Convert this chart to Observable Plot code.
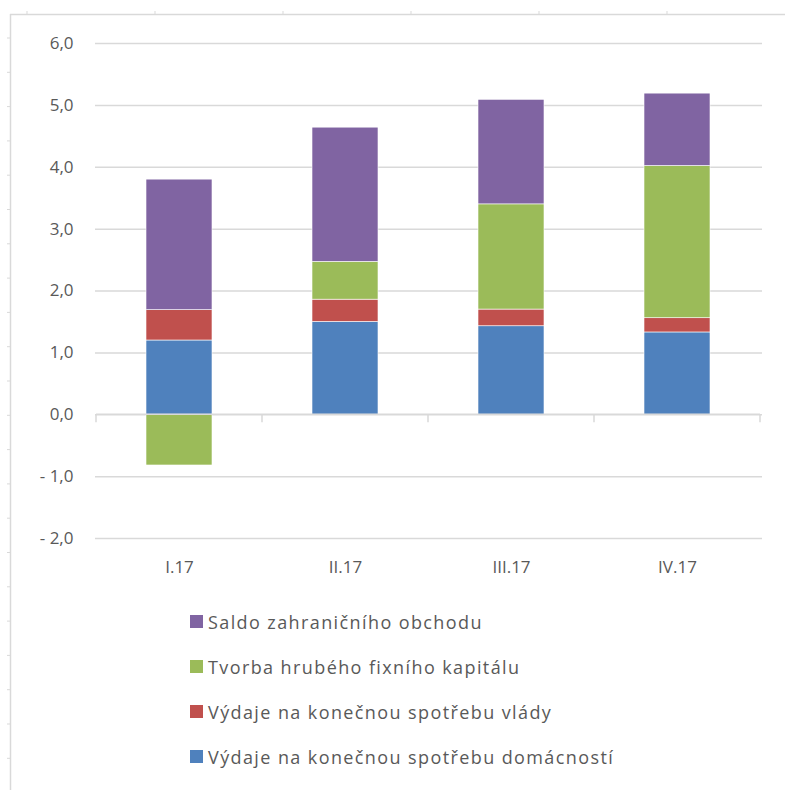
<!DOCTYPE html>
<html lang="cs">
<head>
<meta charset="utf-8">
<script src="https://cdn.jsdelivr.net/npm/d3@7"></script>
<script src="https://cdn.jsdelivr.net/npm/@observablehq/plot@0.6"></script>
<style>
  html, body { margin: 0; padding: 0; background: #fff; }
  #wrap { position: relative; width: 785px; height: 790px; overflow: hidden; font-family: "Open Sans", sans-serif; color: #595959; }
  #deco { position: absolute; left: 0; top: 0; }
  #chart { position: absolute; left: 0; top: 0; }
  #legend { position: absolute; left: 190px; top: 599px; }
  .item { display: flex; align-items: center; height: 45px; font-size: 18px; letter-spacing: 1.4px; color: #595959; }
  .sw { width: 13px; height: 13px; margin-right: 5px; flex: none; }
</style>
</head>
<body>
<div id="wrap">
  <svg id="deco" width="785" height="790"></svg>
  <div id="chart"></div>
  <div id="legend"></div>
</div>
<script>
// Příspěvky ke změně HDP (p.b.), čtvrtletí 2017
const quarters = ["I.17", "II.17", "III.17", "IV.17"];

const seriesNames = [
  "Výdaje na konečnou spotřebu domácností",
  "Výdaje na konečnou spotřebu vlády",
  "Tvorba hrubého fixního kapitálu",
  "Saldo zahraničního obchodu"
];
const seriesColors = ["#4F81BD", "#C0504D", "#9BBB59", "#8064A2"];

const households   = [1.20, 1.50, 1.43, 1.33];
const government   = [0.49, 0.36, 0.27, 0.23];
const fixedCapital = [-0.82, 0.61, 1.70, 2.46];
const tradeBalance = [2.11, 2.17, 1.69, 1.17];

const yTicks = [-2, -1, 0, 1, 2, 3, 4, 5, 6];

// long table for the stacked bars, bottom-to-top order
const seriesValues = [households, government, fixedCapital, tradeBalance];
const rows = [];
seriesNames.forEach((name, s) => {
  quarters.forEach((q, i) => rows.push({quarter: q, series: name, value: seriesValues[s][i]}));
});

const fmt = d => (d < 0 ? "- " : "") + Math.abs(d).toFixed(1).replace(".", ",");

// category axis along zero with boundary ticks between quarters
function zeroAxis(index, {x, y}) {
  const g = d3.create("svg:g");
  const step = x.step();
  const x0 = x(quarters[0]) - (step - x.bandwidth()) / 2;
  const y0 = y(0);
  const xs = d3.range(quarters.length + 1).map(i => x0 + i * step);
  g.append("line")
    .attr("x1", xs[0]).attr("x2", xs[xs.length - 1])
    .attr("y1", y0).attr("y2", y0)
    .attr("stroke", "#d9d9d9").attr("stroke-width", 1.5);
  g.selectAll("line.t").data(xs).join("line")
    .attr("class", "t")
    .attr("x1", d => d).attr("x2", d => d)
    .attr("y1", y0).attr("y2", y0 + 8)
    .attr("stroke", "#d9d9d9").attr("stroke-width", 1.5);
  return g.node();
}

const chart = Plot.plot({
  width: 785,
  height: 590,
  marginLeft: 95,
  marginRight: 23,
  marginTop: 43,
  marginBottom: 52,
  style: {fontFamily: "'Open Sans', sans-serif", fontSize: "17px", color: "#595959", background: "transparent"},
  x: {domain: quarters, paddingInner: 0.6, paddingOuter: 0.3, label: null},
  y: {domain: [-2, 6], label: null},
  color: {domain: seriesNames, range: seriesColors},
  marks: [
    Plot.gridY(yTicks, {stroke: "#d9d9d9", strokeOpacity: 1, strokeWidth: 1.5}),
    Plot.barY(rows, {x: "quarter", y: "value", fill: "series", order: seriesNames, stroke: "#fff", strokeWidth: 0.6}),
    zeroAxis,
    Plot.axisY(yTicks, {tickSize: 0, tickPadding: 22, tickFormat: fmt, letterSpacing: 1.5, label: null}),
    Plot.axisX({tickSize: 0, tickPadding: 22, letterSpacing: 1, label: null})
  ]
});
document.getElementById("chart").appendChild(chart);

// legend, top entry is the top of the stack
const legend = d3.select("#legend");
seriesNames.slice().reverse().forEach(name => {
  const item = legend.append("div").attr("class", "item");
  item.append("div").attr("class", "sw").style("background", seriesColors[seriesNames.indexOf(name)]);
  item.append("span").text(name);
});

// outer chart-area border with small ruler ticks
const deco = d3.select("#deco");
const line = "#d9d9d9";
deco.append("line").attr("x1", 10).attr("x2", 785).attr("y1", 14.5).attr("y2", 14.5).attr("stroke", line).attr("stroke-width", 1.5);
deco.append("line").attr("x1", 10.5).attr("x2", 10.5).attr("y1", 14).attr("y2", 790).attr("stroke", line).attr("stroke-width", 1.5);
deco.selectAll("line.tt").data(d3.range(27, 785, 128)).join("line").attr("class", "tt")
  .attr("x1", d => d).attr("x2", d => d).attr("y1", 11).attr("y2", 14).attr("stroke", line);
deco.selectAll("line.lt").data(d3.range(38, 790, 34.3)).join("line").attr("class", "lt")
  .attr("x1", 7).attr("x2", 10).attr("y1", d => d).attr("y2", d => d).attr("stroke", line);
</script>
</body>
</html>
